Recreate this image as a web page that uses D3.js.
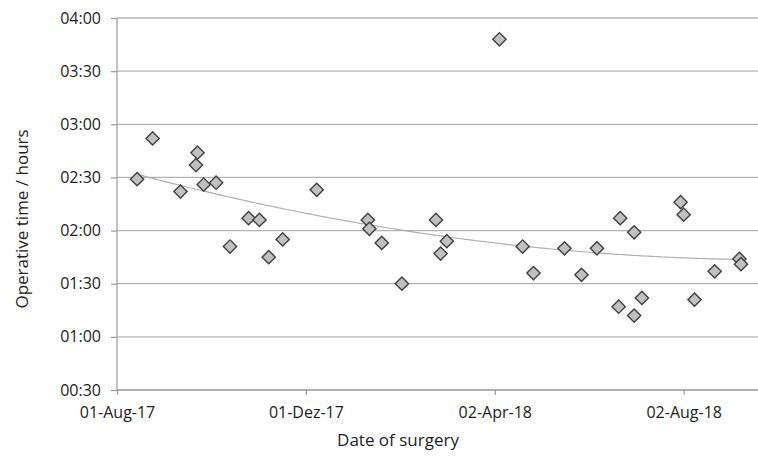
<!DOCTYPE html>
<html>
<head>
<meta charset="utf-8">
<script src="https://cdn.jsdelivr.net/npm/d3@7"></script>
<style>
  body { margin: 0; background: #fff; }
  svg text { font-family: "Open Sans", sans-serif; fill: #222; }
</style>
</head>
<body>
<div id="chart"></div>
<script>
// Surgery dates and operative times (minutes)
const surgeryDates = [
  '2017-08-14', '2017-08-24', '2017-09-11', '2017-09-21', '2017-09-22', '2017-09-26',
  '2017-10-04', '2017-10-13', '2017-10-25', '2017-11-01', '2017-11-07', '2017-11-16',
  '2017-12-08', '2018-01-10', '2018-01-11', '2018-01-19', '2018-02-01', '2018-02-23',
  '2018-02-26', '2018-03-02', '2018-04-05', '2018-04-20', '2018-04-27', '2018-05-17',
  '2018-05-28', '2018-06-07', '2018-06-21', '2018-06-22', '2018-07-01', '2018-07-01',
  '2018-07-06', '2018-07-31', '2018-08-02', '2018-08-09', '2018-08-22', '2018-09-07',
  '2018-09-08'];
const operativeMinutes = [
  149, 172, 142, 157, 164, 146,
  147, 111, 127, 126, 105, 115,
  143, 126, 121, 113, 90, 126,
  107, 114, 228, 111, 96, 110,
  95, 110, 77, 127, 72, 119,
  82, 136, 129, 81, 97, 104,
  101];

const xTickDates = ['2017-08-01', '2017-12-01', '2018-04-02', '2018-08-02'];
const xTickLabels = ['01-Aug-17', '01-Dez-17', '02-Apr-18', '02-Aug-18'];
const xDomain = ['2017-08-01', '2018-09-19'];
const yTicks = [30, 60, 90, 120, 150, 180, 210, 240];

const totalWidth = 758, totalHeight = 456;
const margins = {top: 18, bottom: 66, left: 117, right: 0};
const width = totalWidth - margins.left - margins.right;
const height = totalHeight - margins.top - margins.bottom;

const parse = d3.utcParse('%Y-%m-%d');
const points = surgeryDates.map((d, i) => ({date: parse(d), minutes: operativeMinutes[i]}));

const x = d3.scaleUtc().domain(xDomain.map(parse)).range([0, width]);
const y = d3.scaleLinear().domain([30, 240]).range([height, 0]);
const fmtTime = m => d3.format('02')(Math.floor(m / 60)) + ':' + d3.format('02')(m % 60);

const svg = d3.select('#chart').append('svg')
  .attr('width', totalWidth)
  .attr('height', totalHeight);

const plot = svg.append('g')
  .attr('transform', 'translate(' + [margins.left, margins.top] + ')');

// horizontal gridlines
plot.append('g')
  .selectAll('line')
  .data(yTicks)
  .enter()
  .append('line')
  .attr('x1', 0)
  .attr('x2', width)
  .attr('y1', d => y(d))
  .attr('y2', d => y(d))
  .style('stroke', '#b4b4b4')
  .style('stroke-width', 1.3);

// y axis
const yAxis = plot.append('g')
  .call(d3.axisLeft(y).tickValues(yTicks).tickFormat(fmtTime).tickSize(6).tickPadding(10));
yAxis.selectAll('path, line').style('stroke', '#9a9a9a').style('stroke-width', 1.2);
yAxis.select('.domain').attr('d', 'M0,0V' + height);
yAxis.selectAll('text').style('font-size', '16px').style('font-family', '"Open Sans", sans-serif').style('fill', '#222');

// x axis
const xAxis = plot.append('g')
  .attr('transform', 'translate(0,' + height + ')')
  .call(d3.axisBottom(x).tickValues(xTickDates.map(parse))
    .tickFormat((d, i) => xTickLabels[i]).tickSize(5).tickPadding(12));
xAxis.selectAll('path, line').style('stroke', '#9a9a9a').style('stroke-width', 1.2);
xAxis.select('.domain').attr('d', 'M0,0H' + width);
xAxis.selectAll('text').style('font-size', '16px').style('font-family', '"Open Sans", sans-serif').style('fill', '#222');

// polynomial (order 2) trendline, least squares on the data
const t0 = points[0].date;
const xs = points.map(p => (p.date - t0) / 864e5);
const ys = points.map(p => p.minutes);
function fitQuadratic(xv, yv) {
  const n = xv.length;
  let s = [0, 0, 0, 0, 0], t = [0, 0, 0];
  for (let i = 0; i < n; i++) {
    for (let k = 0; k < 5; k++) s[k] += Math.pow(xv[i], k);
    for (let k = 0; k < 3; k++) t[k] += yv[i] * Math.pow(xv[i], k);
  }
  const A = [[s[0], s[1], s[2], t[0]], [s[1], s[2], s[3], t[1]], [s[2], s[3], s[4], t[2]]];
  for (let c = 0; c < 3; c++) {
    for (let r = c + 1; r < 3; r++) {
      const f = A[r][c] / A[c][c];
      for (let k = c; k < 4; k++) A[r][k] -= f * A[c][k];
    }
  }
  const b = [0, 0, 0];
  for (let r = 2; r >= 0; r--) {
    let v = A[r][3];
    for (let k = r + 1; k < 3; k++) v -= A[r][k] * b[k];
    b[r] = v / A[r][r];
  }
  return b;
}
const coef = fitQuadratic(xs, ys);
const xLast = d3.max(xs);
const trend = d3.range(0, xLast + 1, 2).concat([xLast]).map(d => ({
  date: new Date(+t0 + d * 864e5),
  minutes: coef[0] + coef[1] * d + coef[2] * d * d
}));

plot.append('path')
  .datum(trend)
  .attr('d', d3.line().x(d => x(d.date)).y(d => y(d.minutes)))
  .style('fill', 'none')
  .style('stroke', '#b0b0b0')
  .style('stroke-width', 1.2);

// diamond markers
const diamond = d3.symbol().type(d3.symbolSquare).size(88);
plot.append('g')
  .selectAll('path')
  .data(points)
  .enter()
  .append('path')
  .attr('d', diamond)
  .attr('transform', d => 'translate(' + [x(d.date), y(d.minutes)] + ') rotate(45)')
  .style('fill', '#c0c0c0')
  .style('stroke', '#404040')
  .style('stroke-width', 1.4);

// axis titles
svg.append('text')
  .attr('x', 398)
  .attr('y', 440)
  .attr('dy', '0.35em')
  .attr('text-anchor', 'middle')
  .style('font-size', '17px')
  .text('Date of surgery');

svg.append('text')
  .attr('transform', 'translate(' + [22, 219] + ') rotate(-90)')
  .attr('dy', '0.35em')
  .attr('text-anchor', 'middle')
  .style('font-size', '17px')
  .text('Operative time / hours');
</script>
</body>
</html>
